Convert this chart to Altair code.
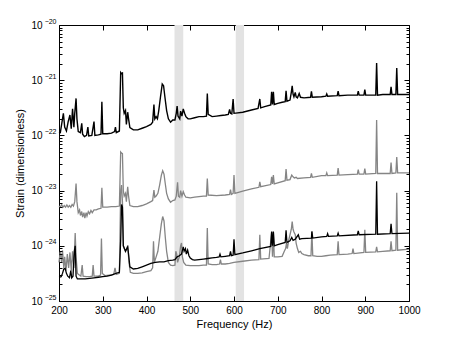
import altair as alt
import pandas as pd

# ---------------- data ----------------
# frequencies in Hz, strain stored as log10(strain)
freq_A = [200, 203, 207, 210, 213, 217, 221, 225, 228, 231, 234, 236, 239, 241, 244, 249, 252, 254, 258, 263,
          266, 268, 275, 280, 282, 290, 296, 298, 300, 310, 320, 327, 329, 331, 338, 341, 343, 345, 347, 349,
          352, 354, 357, 359, 362, 370, 380, 390, 400, 410, 414, 417, 419, 422, 425, 428, 432, 436, 439, 442,
          446, 450, 455, 460, 465, 468, 470, 472, 476, 478, 481, 484, 487, 490, 495, 500, 510, 520, 530, 537,
          539, 541, 550, 560, 570, 580, 587, 590, 592, 595, 598, 600, 620, 640, 655, 659, 661, 670, 684, 686,
          688, 690, 692, 700, 710, 717, 719, 721, 728, 731, 733, 735, 737, 740, 742, 745, 749, 752, 760, 775,
          777, 779, 800, 810, 812, 814, 836, 838, 840, 860, 882, 884, 886, 897, 899, 901, 924, 926, 928, 940,
          957, 959, 961, 970, 972, 974, 1000]
log_A = [-21.96, -21.95, -21.75, -21.60, -21.85, -21.92, -21.75, -21.63, -21.88, -21.52, -21.85, -21.60, -21.33, -21.70, -21.93, -21.95, -21.78, -21.98, -22.02, -22.00,
         -21.85, -22.01, -22.00, -21.75, -22.00, -21.99, -21.98, -21.39, -21.97, -21.97, -21.96, -21.93, -21.85, -21.95, -21.92, -20.86, -20.88, -20.87, -21.50, -21.60,
         -21.55, -21.80, -21.58, -21.70, -21.86, -21.90, -21.90, -21.87, -21.84, -21.80, -21.76, -21.44, -21.70, -21.66, -21.70, -21.55, -21.30, -21.07, -21.10, -21.30,
         -21.55, -21.70, -21.76, -21.72, -21.72, -21.60, -21.47, -21.65, -21.70, -21.56, -21.65, -21.52, -21.60, -21.66, -21.70, -21.70, -21.68, -21.66, -21.66, -21.65,
         -21.24, -21.62, -21.66, -21.65, -21.64, -21.63, -21.62, -21.53, -21.60, -21.61, -21.34, -21.60, -21.58, -21.54, -21.51, -21.34, -21.50, -21.48, -21.45, -21.21,
         -21.44, -21.21, -21.44, -21.42, -21.40, -21.39, -21.19, -21.38, -21.36, -21.22, -21.10, -21.25, -21.30, -21.22, -21.30, -21.32, -21.24, -21.31, -21.32, -21.31,
         -21.20, -21.31, -21.30, -21.29, -21.25, -21.29, -21.28, -21.20, -21.28, -21.27, -21.27, -21.20, -21.27, -21.27, -21.17, -21.27, -21.27, -20.69, -21.27, -21.26,
         -21.26, -21.12, -21.26, -21.26, -20.78, -21.26, -21.26]

freq_B = [200, 203, 206, 209, 212, 215, 218, 221, 224, 227, 230, 233, 236, 239, 241, 244, 247, 249, 252, 254,
          257, 259, 262, 264, 267, 270, 273, 276, 280, 285, 290, 296, 298, 300, 310, 320, 330, 338, 341, 343,
          345, 347, 349, 352, 354, 357, 359, 362, 370, 380, 390, 400, 410, 414, 417, 419, 422, 426, 430, 434,
          437, 440, 443, 446, 450, 455, 460, 465, 468, 471, 473, 476, 478, 481, 484, 487, 490, 500, 510, 520,
          530, 537, 539, 541, 560, 580, 590, 592, 594, 598, 600, 602, 620, 640, 657, 659, 661, 684, 686, 688,
          690, 692, 700, 717, 719, 721, 728, 732, 735, 738, 742, 745, 760, 775, 777, 779, 800, 810, 812, 814,
          836, 838, 840, 860, 882, 884, 886, 897, 899, 901, 924, 926, 928, 940, 957, 959, 961, 970, 972, 974, 1000]
log_B = [-23.28, -23.30, -23.25, -23.30, -23.27, -23.30, -23.26, -23.30, -23.27, -23.30, -23.25, -23.28, -23.20, -22.87, -23.20, -23.40, -23.35, -23.45, -23.38, -23.48,
         -23.40, -23.50, -23.40, -23.46, -23.38, -23.42, -23.36, -23.40, -23.35, -23.35, -23.33, -23.32, -22.95, -23.30, -23.30, -23.29, -23.29, -23.28, -22.30, -22.32,
         -22.33, -23.00, -23.10, -23.05, -23.20, -22.93, -23.10, -23.27, -23.29, -23.29, -23.27, -23.24, -23.20, -23.18, -22.99, -23.12, -23.10, -23.05, -22.90, -22.72,
         -22.64, -22.70, -22.88, -23.05, -23.15, -23.21, -23.18, -23.17, -23.10, -22.85, -23.10, -23.12, -23.00, -23.10, -23.02, -23.08, -23.12, -23.13, -23.12, -23.11,
         -23.10, -23.10, -22.78, -23.08, -23.09, -23.08, -23.07, -22.98, -23.07, -23.05, -22.72, -23.05, -23.01, -22.97, -22.94, -22.84, -22.93, -22.89, -22.75, -22.88,
         -22.72, -22.88, -22.86, -22.82, -22.61, -22.81, -22.80, -22.72, -22.75, -22.77, -22.76, -22.78, -22.77, -22.76, -22.69, -22.76, -22.73, -22.73, -22.68, -22.73,
         -22.72, -22.59, -22.72, -22.71, -22.70, -22.62, -22.70, -22.70, -22.60, -22.70, -22.69, -21.72, -22.69, -22.69, -22.69, -22.49, -22.69, -22.68, -22.39, -22.68, -22.68]

freq_C = [200, 205, 208, 211, 214, 217, 220, 224, 227, 229, 232, 235, 237, 239, 242, 250, 260, 270, 280, 290,
          300, 310, 320, 330, 338, 341, 343, 345, 347, 349, 352, 355, 357, 359, 362, 370, 380, 390, 400, 410,
          420, 430, 440, 450, 460, 465, 470, 475, 480, 484, 486, 489, 491, 494, 497, 500, 505, 510, 520, 530,
          540, 550, 560, 566, 568, 570, 580, 590, 592, 594, 598, 600, 602, 620, 640, 659, 684, 686, 688, 690,
          692, 700, 717, 719, 721, 728, 732, 735, 740, 747, 750, 755, 777, 778, 780, 800, 812, 814, 816, 836,
          838, 840, 882, 884, 886, 924, 926, 928, 957, 959, 961, 1000]
log_C = [-24.57, -24.56, -24.50, -24.42, -24.41, -24.50, -24.55, -24.58, -24.45, -24.58, -24.55, -24.10, -24.00, -24.55, -24.60, -24.60, -24.60, -24.59, -24.58, -24.57,
         -24.56, -24.55, -24.53, -24.50, -24.48, -23.90, -23.25, -23.30, -24.00, -24.04, -24.10, -24.05, -24.02, -24.15, -24.38, -24.42, -24.41, -24.38, -24.35, -24.32,
         -24.30, -24.29, -24.29, -24.27, -24.26, -24.25, -24.20, -24.18, -24.15, -24.02, -24.10, -24.05, -24.15, -24.08, -24.18, -24.22, -24.25, -24.26, -24.25, -24.24,
         -24.23, -24.22, -24.21, -24.20, -24.15, -24.20, -24.19, -24.18, -24.10, -24.18, -24.17, -23.88, -24.16, -24.13, -24.09, -24.05, -24.01, -23.74, -24.00, -23.74,
         -24.00, -23.98, -23.94, -23.72, -23.94, -23.91, -23.85, -23.90, -23.88, -23.80, -23.88, -23.87, -23.86, -23.74, -23.86, -23.84, -23.83, -23.78, -23.83, -23.82,
         -23.77, -23.82, -23.80, -23.73, -23.80, -23.79, -22.83, -23.79, -23.78, -23.60, -23.78, -23.77]

freq_D = [200, 203, 206, 208, 211, 213, 216, 219, 222, 225, 228, 231, 234, 237, 239, 242, 245, 250, 253, 255,
          262, 270, 276, 278, 280, 290, 295, 297, 299, 305, 315, 325, 328, 331, 338, 341, 343, 345, 347, 349,
          352, 355, 357, 360, 363, 370, 380, 390, 400, 410, 414, 416, 418, 422, 426, 430, 434, 437, 440, 443,
          446, 450, 455, 460, 465, 467, 469, 471, 475, 478, 480, 482, 485, 490, 500, 510, 520, 530, 537, 539,
          541, 550, 560, 567, 569, 571, 580, 590, 600, 620, 640, 657, 659, 661, 680, 686, 688, 690, 692, 700,
          710, 715, 718, 720, 722, 725, 728, 731, 733, 735, 737, 740, 742, 745, 748, 752, 755, 760, 770, 776,
          778, 780, 790, 800, 810, 820, 836, 838, 840, 860, 870, 872, 874, 897, 899, 901, 924, 926, 928, 940,
          957, 959, 961, 970, 972, 974, 1000]
log_D = [-24.30, -24.10, -24.30, -24.08, -24.40, -24.20, -24.45, -24.15, -24.40, -24.12, -24.45, -24.10, -24.40, -23.77, -24.20, -24.50, -24.52, -24.55, -24.35, -24.55,
         -24.56, -24.56, -24.55, -24.35, -24.55, -24.55, -24.53, -23.87, -24.50, -24.54, -24.53, -24.52, -24.40, -24.52, -24.50, -23.00, -22.90, -23.20, -24.00, -24.05,
         -24.10, -24.05, -24.00, -24.30, -24.48, -24.50, -24.50, -24.49, -24.47, -24.45, -24.40, -23.92, -24.30, -24.20, -24.10, -23.85, -23.60, -23.47, -23.55, -23.85,
         -24.10, -24.30, -24.35, -24.36, -24.35, -24.10, -24.15, -24.30, -24.20, -24.00, -23.95, -24.20, -24.30, -24.35, -24.36, -24.36, -24.36, -24.35, -24.35, -23.68,
         -24.33, -24.34, -24.34, -24.33, -24.25, -24.33, -24.33, -24.32, -24.30, -24.28, -24.26, -24.25, -23.80, -24.24, -24.23, -23.76, -24.20, -23.75, -24.20, -24.20,
         -24.19, -24.10, -24.05, -23.95, -24.05, -23.90, -23.80, -23.70, -23.56, -23.70, -23.75, -23.80, -23.95, -24.05, -24.12, -24.10, -24.14, -24.16, -24.18, -24.18,
         -23.74, -24.18, -24.19, -24.19, -24.18, -24.17, -24.16, -23.92, -24.16, -24.15, -24.14, -24.05, -24.14, -24.12, -23.71, -24.12, -24.11, -24.02, -24.11, -24.10,
         -24.09, -23.92, -24.09, -24.08, -23.04, -24.08, -24.06]

band_lo = [464, 604]
band_hi = [484, 623]

x_ticks = [200, 300, 400, 500, 600, 700, 800, 900, 1000]
y_ticks = [1e-25, 1e-24, 1e-23, 1e-22, 1e-21, 1e-20]
y_exps = [-25, -24, -23, -22, -21, -20]
y_exp_labels = ["\u221225", "\u221224", "\u221223", "\u221222", "\u221221", "\u221220"]
y_minor = [k * 10.0 ** e for e in range(-25, -20) for k in range(2, 10)]

BLACK = "#000000"
GRAY = "#858585"
BAND = "#e3e3e3"
FONT = "Liberation Sans"


def frame(freq, logs):
    return pd.DataFrame({"freq": freq, "strain": [10.0 ** v for v in logs]})


df_A, df_B, df_C, df_D = frame(freq_A, log_A), frame(freq_B, log_B), frame(freq_C, log_C), frame(freq_D, log_D)
df_bands = pd.DataFrame({"lo": band_lo, "hi": band_hi})

x_scale = alt.Scale(domain=[200, 1000], nice=False, zero=False)
y_scale = alt.Scale(type="log", domain=[1e-25, 1e-20], nice=False)

exp_expr = " : ".join(
    f"round(log(datum.value)/LN10) == {e} ? '{lab}'" for e, lab in zip(y_exps, y_exp_labels)
) + " : ''"

common_axis = dict(domain=False, grid=False, tickColor="black", tickWidth=1, zindex=1,
                   labelFont=FONT, labelFontSize=10, labelColor="black",
                   titleFont=FONT, titleFontSize=11, titleFontWeight="normal", titleColor="black")

bands = alt.Chart(df_bands).mark_rect(color=BAND).encode(
    x=alt.X("lo:Q", scale=x_scale, axis=None),
    x2="hi:Q",
)


def line(df, color, width, xaxis=None, yaxis=None, opacity=1.0):
    return alt.Chart(df).mark_line(color=color, strokeWidth=width, opacity=opacity).encode(
        x=alt.X("freq:Q", scale=x_scale, axis=xaxis),
        y=alt.Y("strain:Q", scale=y_scale, axis=yaxis),
    )


main_x = alt.Axis(orient="bottom", values=x_ticks, format="d", tickSize=5, offset=-5, labelPadding=4,
                  labelFlush=False, labelOverlap=False, labelBound=False,
                  title="Frequency (Hz)", titlePadding=3, **common_axis)
# mantissa "10" of the y labels
main_y = alt.Axis(orient="left", values=y_ticks, tickSize=5, offset=-5, labelPadding=17,
                  labelExpr="'10'", labelOverlap=False, labelFlush=False, labelBound=False,
                  title="Strain (dimensionless)", titlePadding=5, **common_axis)
# exponents of the y labels (small, raised)
exp_y = alt.Axis(orient="left", values=y_ticks, tickSize=0, offset=0, labelPadding=3,
                 labelExpr=exp_expr, labelFontSize=7, labelOffset=-4,
                 labelOverlap=False, labelFlush=False, labelBound=False,
                 title=None, domain=False, grid=False, labelFont=FONT, labelColor="black")
top_x = alt.Axis(orient="top", values=x_ticks, tickSize=5, offset=-5, labels=False, title=None, **common_axis)
right_y = alt.Axis(orient="right", values=y_ticks, tickSize=5, offset=-5, labels=False, title=None, **common_axis)
minor_left = alt.Axis(orient="left", values=y_minor, tickSize=3, offset=-3, labels=False, title=None, **common_axis)
minor_right = alt.Axis(orient="right", values=y_minor, tickSize=3, offset=-3, labels=False, title=None, **common_axis)

layer_A = line(df_A, BLACK, 1.4, xaxis=main_x, yaxis=main_y)
layer_B = line(df_B, GRAY, 1.3)
layer_D = line(df_D, GRAY, 1.3)
layer_C = line(df_C, BLACK, 1.3)
ax_top_right = line(df_A, BLACK, 1, xaxis=top_x, yaxis=right_y, opacity=0)
ax_minor_l = line(df_A, BLACK, 1, yaxis=minor_left, opacity=0)
ax_minor_r = line(df_A, BLACK, 1, yaxis=minor_right, opacity=0)
ax_exp = line(df_A, BLACK, 1, yaxis=exp_y, opacity=0)

chart = alt.layer(
    bands, layer_B, layer_D, layer_A, layer_C, ax_top_right, ax_minor_l, ax_minor_r, ax_exp
).resolve_axis(
    x="independent", y="independent"
).properties(
    width=350, height=276,
    autosize=alt.AutoSizeParams(type="none"),
    padding={"left": 51, "top": 17, "right": 35, "bottom": 31},
).configure_view(
    stroke="black", strokeWidth=1
)

chart.save("out.html", embed_options={"renderer": "svg", "actions": False})
